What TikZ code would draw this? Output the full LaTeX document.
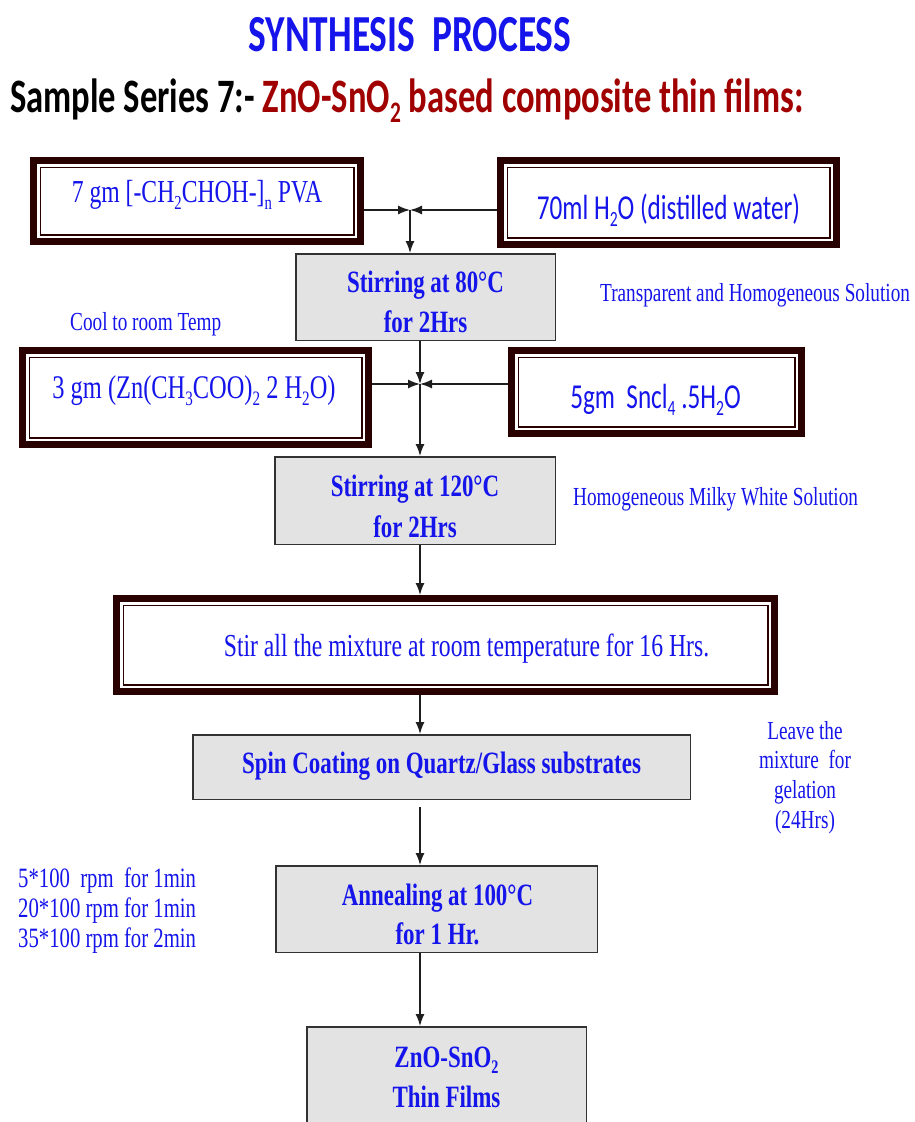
\documentclass[tikz,border=0pt]{standalone}
\usepackage{fontspec}
\usepackage{graphicx}
\usetikzlibrary{arrows.meta}
% condensed faces used throughout the chart
\newfontfamily\tnr[FakeStretch=0.74]{Liberation Serif}
\newfontfamily\cbri[FakeStretch=0.72]{Carlito}
\definecolor{frm}{RGB}{40,0,0}
\definecolor{blu}{RGB}{20,20,235}
\definecolor{dred}{RGB}{160,0,0}
\definecolor{gfill}{RGB}{227,227,227}
\definecolor{gline}{RGB}{50,50,50}
\definecolor{cline}{RGB}{30,30,30}
% chemical subscript
\newcommand\sub[1]{\raisebox{-0.22em}{\scalebox{0.62}{#1}}}
% text of a box: horizontal offset, baseline offset from the box centre, content
\newcommand\placetext[3]{\raisebox{#2}[0pt][0pt]{\makebox[0pt]{\hspace*{#1}\hspace*{#1}#3}}}
\begin{document}
\begin{tikzpicture}[x=1pt,y=-1pt,
  frame/.style={draw=frm, line width=1.5pt, fill=white, inner sep=0pt, outer sep=10.25pt,
    preaction={draw=frm, line width=20.5pt},
    preaction={draw=white, line width=6.5pt},
    text=blu},
  serif32/.style={font=\tnr\fontsize{32}{40}\selectfont},
  sans35/.style={font=\cbri\fontsize{35}{42}\selectfont},
  grey/.style={draw=gline, line width=1.5pt, fill=gfill, inner sep=0pt, text=blu,
    font=\tnr\bfseries\fontsize{31}{40}\selectfont},
  note/.style={inner sep=0pt, text=blu, font=\tnr\fontsize{26}{29.7}\selectfont},
  arr/.style={draw=cline, line width=1.4pt, -{Latex[length=12pt,width=9pt]}},
]
\useasboundingbox (0,0) rectangle (914,1122);
\fill[white] (0,0) rectangle (914,1122);

% headings
\node[inner sep=0pt, anchor=base, text=blu, font=\cbri\bfseries\fontsize{52}{60}\selectfont]
  (title) at (410,51) {SYNTHESIS\ \ PROCESS};
\node[inner sep=0pt, anchor=base west, font=\cbri\bfseries\fontsize{48}{58}\selectfont]
  (subtitle) at (10,112) {Sample Series 7:- \textcolor{dred}{ZnO-SnO\sub{2} based composite thin films:}};

% starting materials
\node[frame, serif32, minimum width=313.5pt, minimum height=67.5pt] (pva) at (197,201)
  {\placetext{0pt}{-1pt}{7 gm [-CH\sub{2}CHOH-]\sub{n} PVA}};
\node[frame, sans35, minimum width=322.5pt, minimum height=70.5pt] (water) at (668.5,202.5)
  {\placetext{0pt}{-16.5pt}{70ml H\sub{2}O (distilled water)}};
\node[frame, serif32, font=\tnr\fontsize{33}{40}\selectfont, minimum width=332.5pt, minimum height=80.5pt] (zinc) at (195.5,397.5)
  {\placetext{-1.5pt}{-0.5pt}{3 gm (Zn(CH\sub{3}COO)\sub{2} 2 H\sub{2}O)}};
\node[frame, sans35, minimum width=276.5pt, minimum height=69.5pt] (sncl) at (656.5,392)
  {\placetext{-1pt}{-16pt}{5gm\ \ Sncl\sub{4} .5H\sub{2}O}};

% process steps
\node[grey, minimum width=259.5pt, minimum height=86.5pt] (stir80) at (425.5,297)
  {\placetext{0pt}{-35pt}{\begin{tabular}[b]{@{}c@{}}Stirring at 80°C\\for 2Hrs\end{tabular}}};
\node[grey, font=\tnr\bfseries\fontsize{31}{41}\selectfont, minimum width=280.5pt, minimum height=87.5pt] (stir120) at (415,500.5)
  {\placetext{0pt}{-36.5pt}{\begin{tabular}[b]{@{}c@{}}Stirring at 120°C\\for 2Hrs\end{tabular}}};
\node[frame, serif32, minimum width=644.5pt, minimum height=79.5pt] (mix) at (445.5,645)
  {\placetext{21pt}{-11pt}{Stir all the mixture at room temperature for 16 Hrs.}};
\node[grey, minimum width=497.5pt, minimum height=64.5pt] (spin) at (441.5,767)
  {\placetext{0pt}{-6pt}{Spin Coating on Quartz/Glass substrates}};
\node[grey, font=\tnr\bfseries\fontsize{31}{39}\selectfont, minimum width=321.5pt, minimum height=86.5pt] (anneal) at (436.5,909)
  {\placetext{1pt}{-35pt}{\begin{tabular}[b]{@{}c@{}}Annealing at 100°C\\for 1 Hr.\end{tabular}}};
\node[grey, minimum width=279.5pt, minimum height=112.5pt] (final) at (446.5,1083)
  {\placetext{0pt}{-24pt}{\begin{tabular}[b]{@{}c@{}}ZnO-SnO\sub{2}\\Thin Films\end{tabular}}};

% side remarks
\node[note, anchor=base west] (trans) at (600,301) {Transparent and Homogeneous Solution};
\node[note, anchor=base west] (cool) at (70,330) {Cool to room Temp};
\node[note, anchor=base west] (milky) at (573,505) {Homogeneous Milky White Solution};
\node[note, anchor=base] (leave) at (805,739)
  {\begin{tabular}[t]{@{}c@{}}Leave the\\mixture\ \ for\\gelation\\(24Hrs)\end{tabular}};
\node[note, font=\tnr\fontsize{28}{30}\selectfont, anchor=base west] (rpm) at (18,887)
  {\begin{tabular}[t]{@{}l@{}}5*100\ \ rpm\ \ for 1min\\20*100 rpm for 1min\\35*100 rpm for 2min\end{tabular}};

% junction points and the main vertical line
\coordinate (j1) at (410,210);
\coordinate (j2) at (420,384);
\coordinate (sp) at (420,0);

% connectors
\draw[arr] (pva.east |- j1) -- (j1);
\draw[arr] (water.west |- j1) -- (j1);
\draw[arr] (j1) -- (j1 |- stir80.north);
\draw[arr] (stir80.south -| j2) -- (j2);
\draw[arr] (zinc.east |- j2) -- (j2);
\draw[arr] (sncl.west |- j2) -- (j2);
\draw[arr] (j2) -- (j2 |- stir120.north);
\draw[arr] (stir120.south -| sp) -- (mix.north -| sp);
\draw[arr] (mix.south -| sp) -- (spin.north -| sp);
\draw[arr, shorten <=7pt] (spin.south -| sp) -- (anneal.north -| sp);
\draw[arr] (anneal.south -| sp) -- (final.north -| sp);
\end{tikzpicture}
\end{document}
